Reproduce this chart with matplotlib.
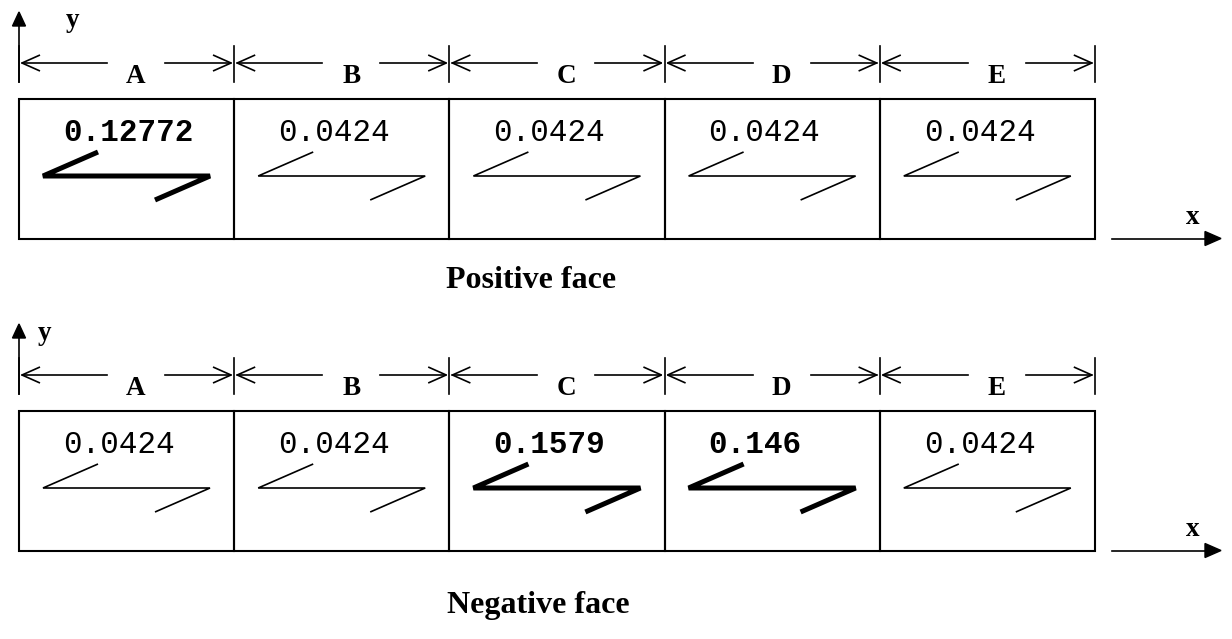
import matplotlib
matplotlib.use("Agg")
import matplotlib.pyplot as plt
from matplotlib.patches import Polygon

# ---- data ----
segments = ["A", "B", "C", "D", "E"]
positive_values = [0.12772, 0.0424, 0.0424, 0.0424, 0.0424]
negative_values = [0.0424, 0.0424, 0.1579, 0.146, 0.0424]
baseline_value = 0.0424
panel_titles = ["Positive face", "Negative face"]

W, H = 1232, 639
fig = plt.figure(figsize=(W / 100, H / 100), dpi=100)
ax = fig.add_axes([0, 0, 1, 1])
ax.set_xlim(0, W)
ax.set_ylim(H, 0)
ax.axis("off")

SERIF = ["Liberation Serif", "DejaVu Serif"]
MONO = ["Liberation Mono", "DejaVu Sans Mono"]

x0 = 19.0
cw = 215.2
thin = 1.2
box_lw = 1.5


def open_head(xtip, y, direction):
    # direction: -1 pointing left, +1 pointing right
    L, hw = 18, 8
    ax.plot([xtip - direction * L, xtip, xtip - direction * L],
            [y - hw, y, y + hw], color="black", lw=thin,
            solid_joinstyle="miter", solid_capstyle="butt")


def draw_panel(values, top, title, title_xy, ylab_xy):
    # y axis arrow
    ax.plot([x0, x0], [top - 17, top - 73], color="black", lw=thin)
    ax.add_patch(Polygon([[x0 - 6.5, top - 73], [x0 + 6.5, top - 73],
                          [x0, top - 87]], closed=True, color="black"))
    ax.text(ylab_xy[0], ylab_xy[1], "y", family=SERIF, fontweight="bold",
            fontsize=19.5, ha="center", va="baseline")

    # dimension lines
    ydim = top - 36
    for i in range(len(segments) + 1):
        xe = x0 + i * cw
        ax.plot([xe, xe], [top - 53, top - 17], color="black", lw=thin)
    for i, seg in enumerate(segments):
        cl = x0 + i * cw
        ax.plot([cl + 3, cl + 88], [ydim, ydim], color="black", lw=thin)
        open_head(cl + 3, ydim, -1)
        ax.plot([cl + 146, cl + 212], [ydim, ydim], color="black", lw=thin)
        open_head(cl + 212, ydim, 1)
        ax.text(cl + 117, top - 16, seg, family=SERIF, fontweight="bold",
                fontsize=19.5, ha="center", va="baseline")

    # boxes
    bh = 139.5
    for i, v in enumerate(values):
        cl = x0 + i * cw
        ax.add_patch(plt.Rectangle((cl, top), cw, bh, fill=False,
                                   edgecolor="black", lw=box_lw))
        bold = v > baseline_value
        ax.text(cl + 44, top + 42, str(v), family=MONO,
                fontweight="bold" if bold else "normal",
                fontsize=22.3, ha="left", va="baseline")
        lw = 3.6 if bold else thin
        ax.plot([cl + 79, cl + 24, cl + 191, cl + 136],
                [top + 53, top + 77, top + 77, top + 101],
                color="black", lw=lw, solid_joinstyle="bevel",
                solid_capstyle="butt")

    # x axis arrow
    yb = top + bh
    ax.plot([1112, 1206], [yb, yb], color="black", lw=thin)
    ax.add_patch(Polygon([[1205, yb - 7], [1205, yb + 7], [1221, yb]],
                         closed=True, color="black"))
    ax.text(1193, yb - 14, "x", family=SERIF, fontweight="bold",
            fontsize=19.5, ha="center", va="baseline")

    ax.text(title_xy[0], title_xy[1], title, family=SERIF, fontweight="bold",
            fontsize=23, ha="center", va="center")


draw_panel(positive_values, 99, panel_titles[0], (531, 281), (73, 27))
draw_panel(negative_values, 411, panel_titles[1], (538, 606), (45, 340))

fig.savefig("out.png", dpi=100)
